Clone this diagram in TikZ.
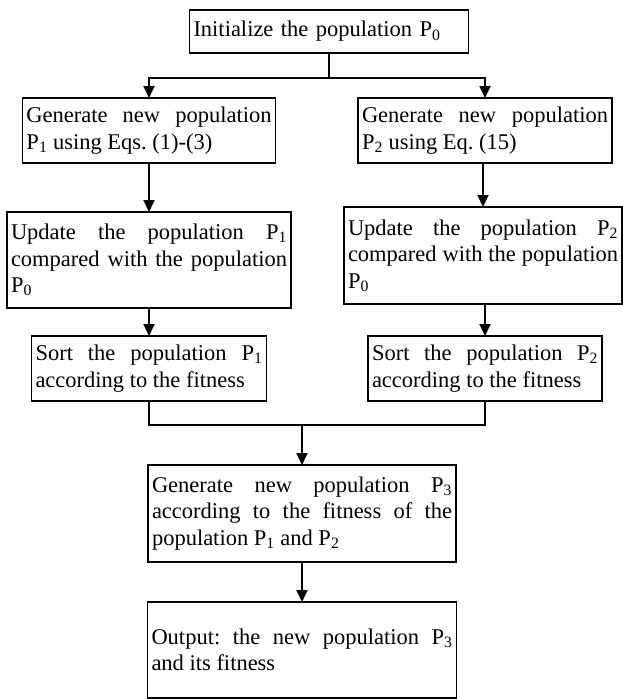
\documentclass[tikz,border=0pt]{standalone}
\usepackage{fontspec}
\setmainfont{Liberation Serif}
\usepackage{tikz}
\usetikzlibrary{arrows.meta}
\newcommand{\Pop}[1]{P\textsubscript{#1}}
\tikzstyle{stage} = [draw, rectangle, line width=1.3pt, inner xsep=4pt, inner ysep=0pt,
   outer sep=0pt, align=justify, font=\fontsize{22.5}{26.5}\selectfont]
\tikzstyle{link} = [line width=1.8pt]
\tikzstyle{flow} = [link, -{Triangle[width=11pt,length=12pt]}]
\hyphenpenalty=10000
\tolerance=9999
\frenchspacing

\begin{document}
\begin{tikzpicture}[x=1pt, y=1pt]
  \useasboundingbox (0,0) rectangle (623,-699);

  \node[stage, align=left, text width=271pt, minimum height=43pt] (init) at (329,-31.5)
    {Initialize the population \Pop{0}};
  \node[stage, text width=245pt, minimum height=65pt] (gen1) at (149,-130.5)
    {Generate new population\linebreak \Pop{1} using Eqs. (1)-(3)};
  \node[stage, text width=246pt, minimum height=65pt] (gen2) at (485,-130.5)
    {Generate new population\linebreak \Pop{2} using Eq. (15)};
  \node[stage, text width=276pt, minimum height=96pt] (upd1) at (149,-260)
    {Update the population \Pop{1}\linebreak compared with the population\linebreak \Pop{0}};
  \node[stage, text width=270pt, minimum height=97pt] (upd2) at (483,-255.5)
    {Update the population \Pop{2}\linebreak compared with the population\linebreak \Pop{0}};
  \node[stage, text width=227pt, minimum height=65pt] (sort1) at (149,-368.5)
    {Sort the population \Pop{1}\linebreak according to the fitness};
  \node[stage, text width=226pt, minimum height=65pt] (sort2) at (485,-368.5)
    {Sort the population \Pop{2}\linebreak according to the fitness};
  \node[stage, text width=300pt, minimum height=97pt] (newp) at (302,-513.5)
    {Generate new population \Pop{3}\linebreak according to the fitness of the\linebreak population \Pop{1} and \Pop{2}};
  \node[stage, text width=301pt, minimum height=96pt] (out) at (302,-650)
    {Output: the new population \Pop{3}\linebreak and its fitness};

  \coordinate (fork) at (329,-78);
  \coordinate (merge) at (302,-425);

  % split after the initial population
  \draw[link] (init) -- (fork);
  \draw[flow] (fork) -| (gen1);
  \draw[flow] (fork) -| (gen2);

  % two branches
  \draw[flow] (gen1) -- (gen1 |- upd1.north);
  \draw[flow] (upd1) -- (upd1 |- sort1.north);
  \draw[flow] (gen2.south -| upd2.north) -- (upd2.north);
  \draw[flow] (upd2.south -| sort2.north) -- (sort2.north);

  % join and output
  \draw[link] (sort1) |- (merge);
  \draw[link] (sort2) |- (merge);
  \draw[flow] (merge) -- (newp);
  \draw[flow] (newp) -- (out);
\end{tikzpicture}
\end{document}
